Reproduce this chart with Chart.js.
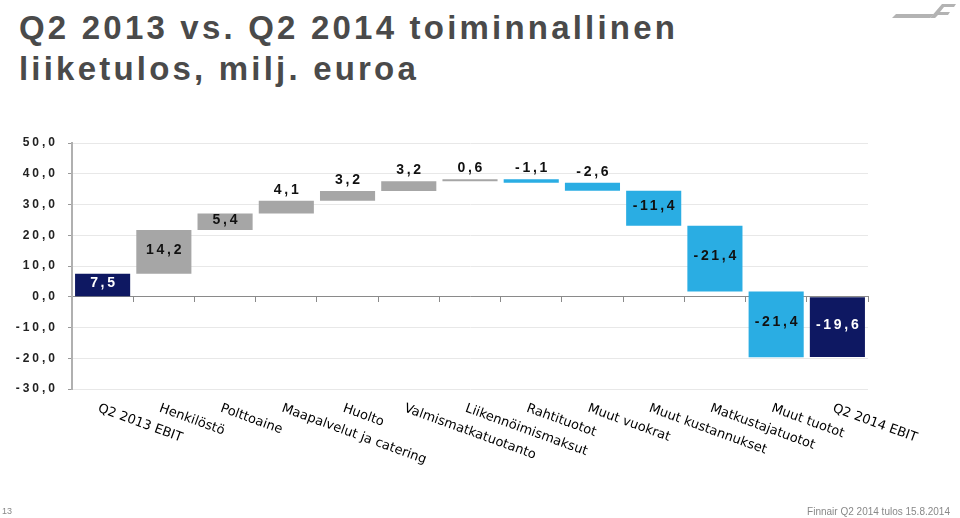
<!DOCTYPE html>
<html>
<head>
<meta charset="utf-8">
<script src="https://cdn.jsdelivr.net/npm/chart.js@4/dist/chart.umd.min.js"></script>
<style>
  html, body { margin: 0; padding: 0; background: #fff; }
  #wrap { position: relative; width: 960px; height: 518px; overflow: hidden; }
  #chart { position: absolute; left: 0; top: 0; }
  .title {
    position: absolute; left: 19px; top: 7px;
    font-family: "Liberation Sans", Arial, sans-serif;
    font-weight: bold; font-size: 33px; line-height: 41px;
    color: #4a4a4a; letter-spacing: 3.2px; white-space: nowrap;
  }
  .page { position: absolute; left: 2px; top: 506px; font: 9px "Liberation Sans Narrow", sans-serif; color: #888; }
  .source { position: absolute; right: 10px; top: 506px; font: 10px "Liberation Sans Narrow", sans-serif; color: #888; }
  .logo { position: absolute; left: 890px; top: 2px; }
</style>
</head>
<body>
<div id="wrap">
  <div class="title">Q2 2013 vs. Q2 2014 toiminnallinen<br>liiketulos, milj. euroa</div>
  <svg class="logo" width="68" height="20" viewBox="0 0 68 20">
    <polygon points="2,16 40,16 44,12 6,12" fill="#b3b3b3"/>
    <polygon points="40,16 52,2 66,2 64,5 54,5 50,10 60,10 58,13 48,13 45,16" fill="#b3b3b3"/>
  </svg>
  <canvas id="chart" width="960" height="518"></canvas>
  <div class="page">13</div>
  <div class="source">Finnair Q2 2014 tulos 15.8.2014</div>
</div>
<script>
// --- data ---
const categories = ['Q2 2013 EBIT', 'Henkilöstö', 'Polttoaine', 'Maapalvelut ja catering', 'Huolto',
  'Valmismatkatuotanto', 'Liikennöimismaksut', 'Rahtituotot', 'Muut vuokrat', 'Muut kustannukset',
  'Matkustajatuotot', 'Muut tuotot', 'Q2 2014 EBIT'];
const changes = [7.5, 14.2, 5.4, 4.1, 3.2, 3.2, 0.6, -1.1, -2.6, -11.4, -21.4, -21.4, -19.6];
const barTypes = ['total', 'up', 'up', 'up', 'up', 'up', 'up', 'down', 'down', 'down', 'down', 'down', 'total'];
const yTickValues = [50, 40, 30, 20, 10, 0, -10, -20, -30];

const typeColors = { total: '#0e1862', up: '#a6a6a6', down: '#2aade3' };

// waterfall ranges from the changes
let running = 0;
const ranges = changes.map((v, i) => {
    if (barTypes[i] === 'total') {
        running = v;
        return [0, v];
    }
    const r = [running, running + v];
    running += v;
    return r;
});

const fmt = v => v.toFixed(1).replace('.', ',');

// letter spaced tick labels like the slide
const spacingPlugin = {
    id: 'spacing',
    beforeDraw(chart) { chart.ctx.letterSpacing = '3px'; },
    beforeDatasetsDraw(chart) { chart.ctx.letterSpacing = '0px'; }
};

const valueLabels = {
    id: 'valueLabels',
    afterDatasetsDraw(chart) {
        const ctx = chart.ctx;
        const meta = chart.getDatasetMeta(0);
        ctx.save();
        ctx.letterSpacing = '2.7px';
        ctx.font = 'bold 14px "Liberation Sans", Arial, sans-serif';
        ctx.textAlign = 'center';
        ctx.textBaseline = 'middle';
        meta.data.forEach((bar, i) => {
            const top = Math.min(bar.y, bar.base);
            const bottom = Math.max(bar.y, bar.base);
            let y = (top + bottom) / 2 - 2;
            if (bottom - top < 15) y = top - 11;
            ctx.fillStyle = barTypes[i] === 'total' ? '#fff' : '#111';
            ctx.fillText(fmt(changes[i]), bar.x + 1.3, y);
        });
        ctx.restore();
    }
};

// slanted category labels running down to the right
const slantLabels = {
    id: 'slantLabels',
    afterDraw(chart) {
        const ctx = chart.ctx;
        const xs = chart.scales.x;
        ctx.save();
        ctx.letterSpacing = '0px';
        ctx.font = '13px "DejaVu Sans", Verdana, sans-serif';
        ctx.fillStyle = '#000';
        ctx.textAlign = 'left';
        ctx.textBaseline = 'top';
        categories.forEach((c, i) => {
            ctx.save();
            ctx.translate(xs.getPixelForValue(i) - 2, 402);
            ctx.rotate(20 * Math.PI / 180);
            ctx.fillText(c, 0, 0);
            ctx.restore();
        });
        ctx.restore();
    }
};

new Chart(document.getElementById('chart'), {
    type: 'bar',
    data: {
        labels: categories,
        datasets: [{
            data: ranges,
            backgroundColor: barTypes.map(t => typeColors[t]),
            barPercentage: 0.9,
            categoryPercentage: 1.0,
            borderSkipped: false
        }]
    },
    options: {
        responsive: false,
        animation: false,
        layout: { padding: { top: 143, right: 92, bottom: 129, left: 0 } },
        plugins: {
            legend: { display: false },
            tooltip: { enabled: false }
        },
        scales: {
            x: {
                position: { y: 0 },
                offset: true,
                ticks: { display: false },
                grid: { offset: true, drawOnChartArea: false, tickLength: 5, tickColor: '#8a8a8a' },
                border: { color: '#8a8a8a', width: 1 }
            },
            y: {
                min: -30,
                max: 50,
                afterBuildTicks: s => { s.ticks = yTickValues.map(v => ({ value: v })); },
                afterFit: s => { s.width = 72; },
                ticks: {
                    callback: v => fmt(v),
                    font: { family: '"Liberation Sans", Arial, sans-serif', weight: 'bold', size: 12 },
                    color: '#222',
                    padding: 10
                },
                grid: { color: '#e8e8e8', tickColor: '#999', tickLength: 4 },
                border: { color: '#b0b0b0', width: 2 }
            }
        }
    },
    plugins: [spacingPlugin, valueLabels, slantLabels]
});
</script>
</body>
</html>
